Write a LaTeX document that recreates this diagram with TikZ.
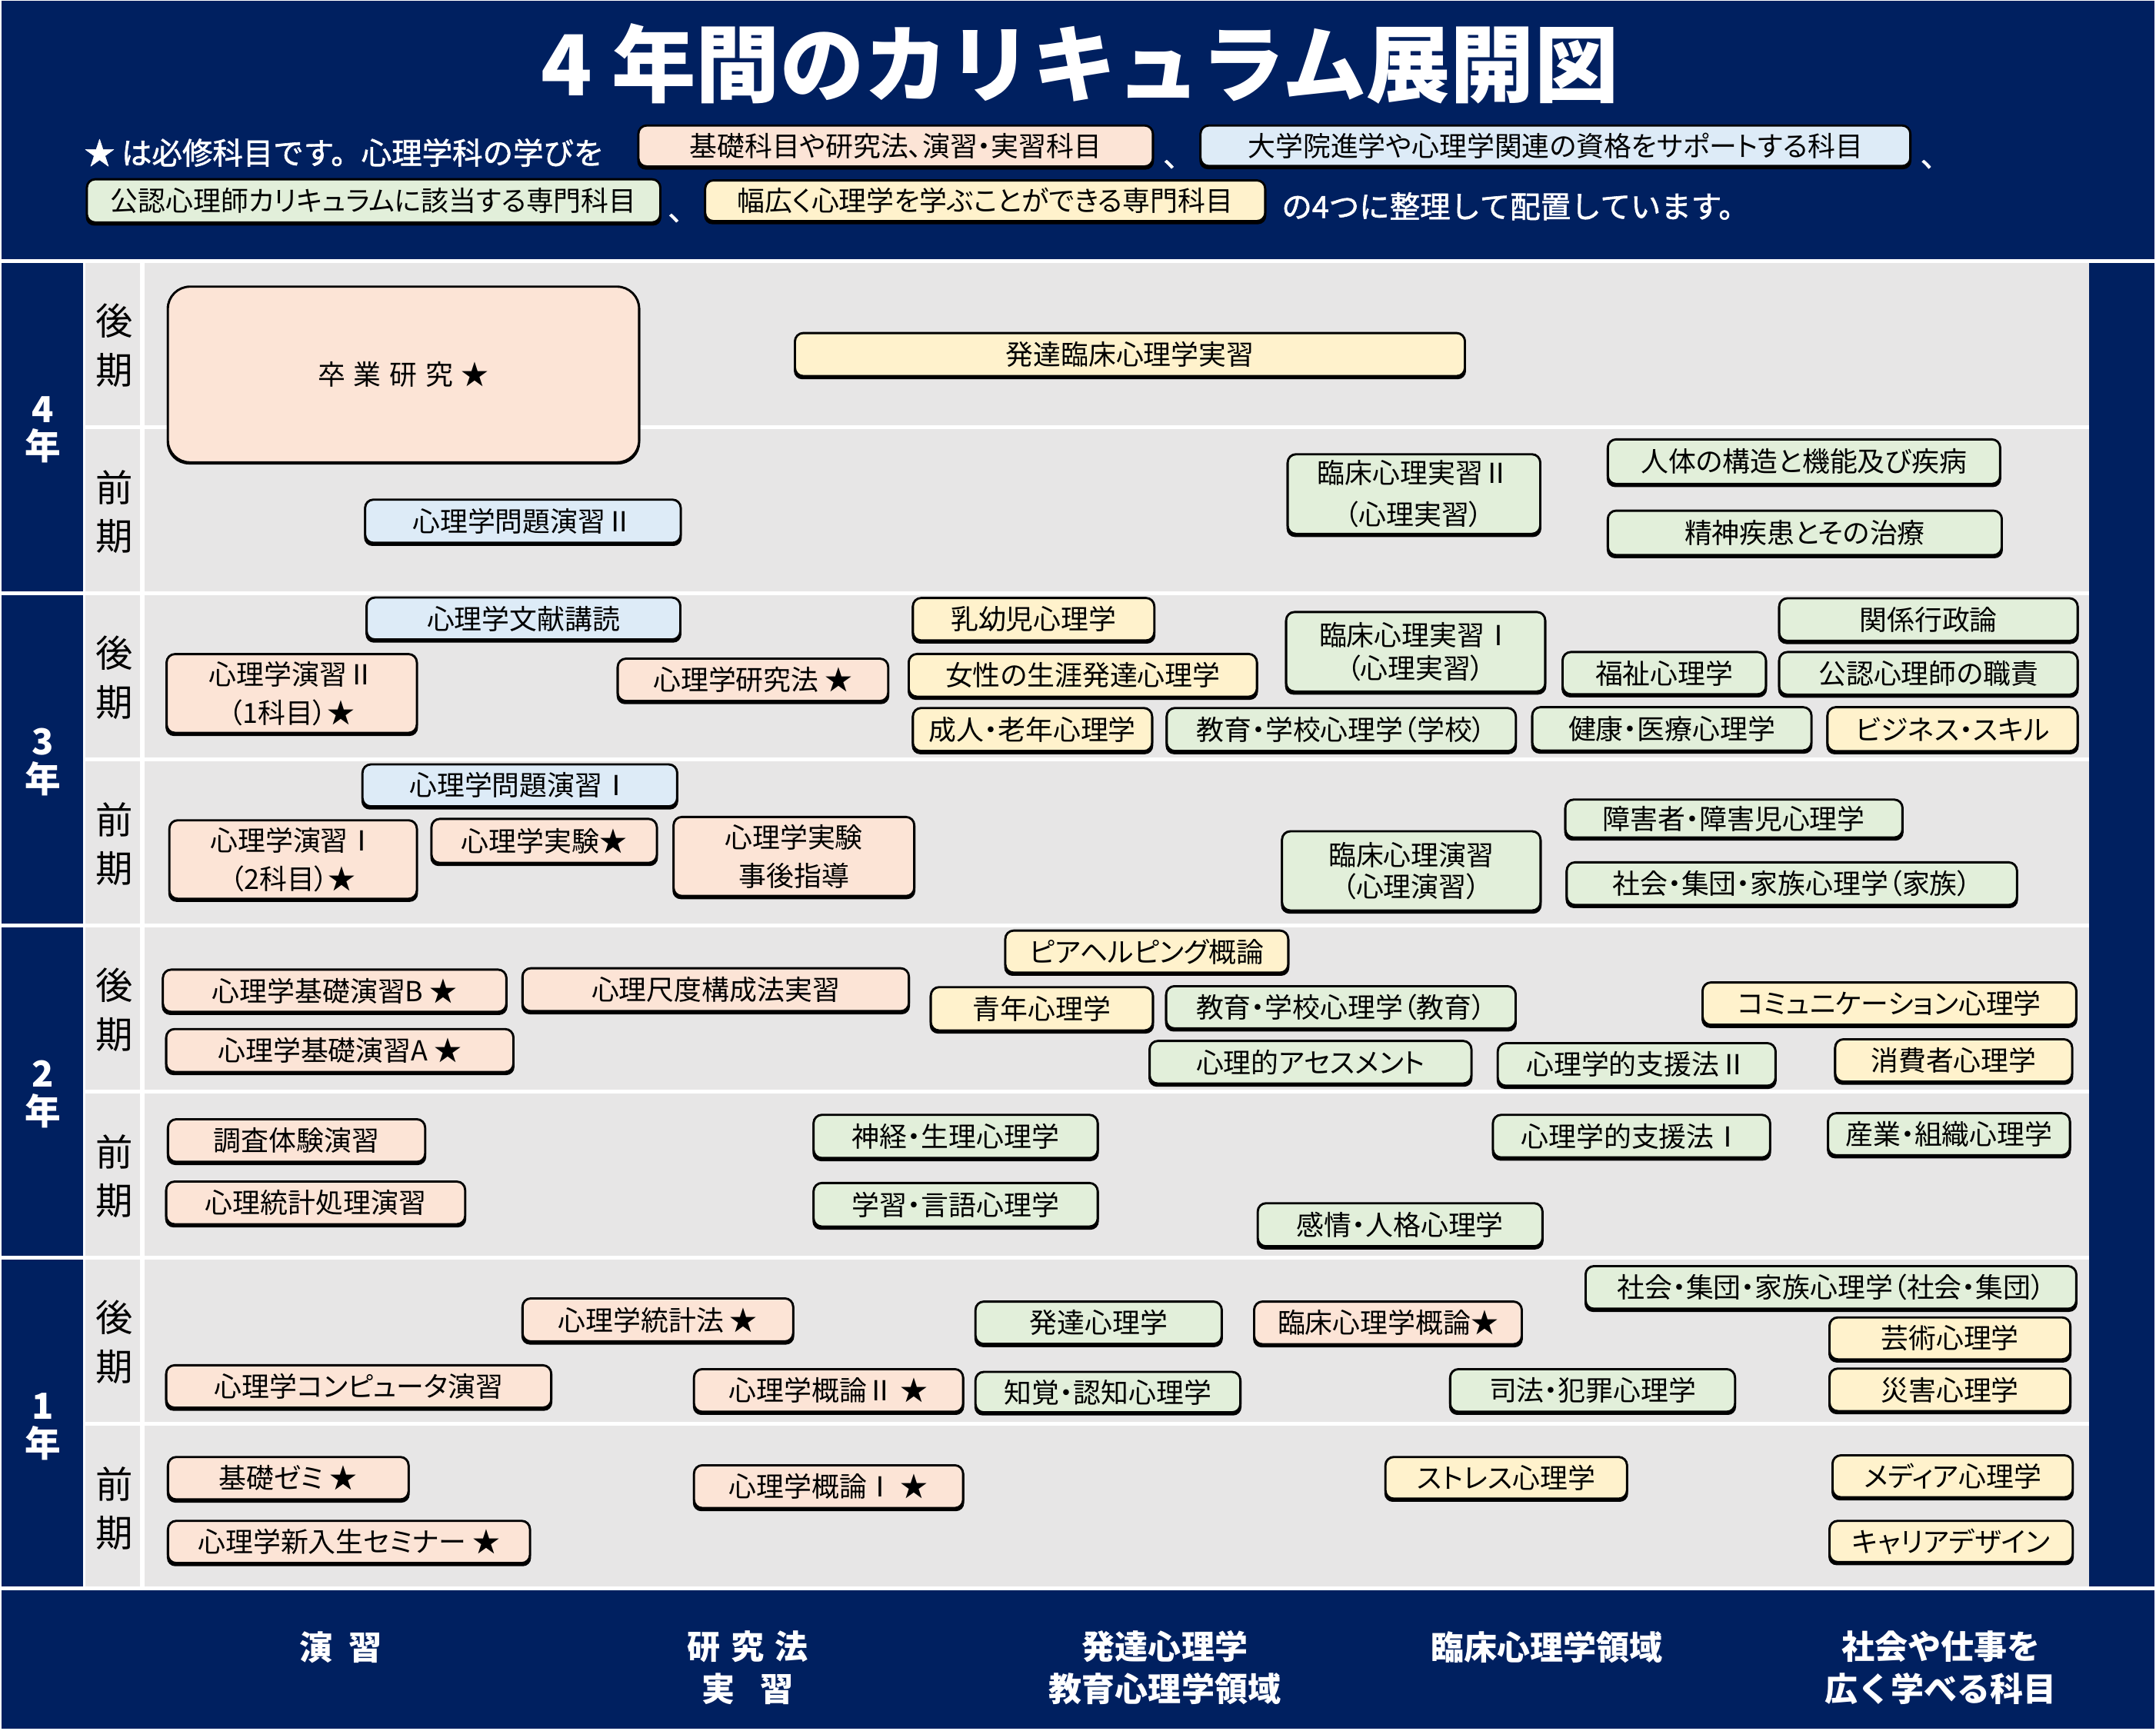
\documentclass[tikz,border=0pt]{standalone}
\usepackage{fontspec}
\setmainfont{Noto Sans CJK JP}
\newfontfamily\boxfont[RawFeature=+palt]{Noto Sans CJK JP}
\newfontfamily\hdrfont[FakeBold=1.5]{Noto Sans CJK JP}
\definecolor{navy}{RGB}{0,32,96}
\definecolor{bgg}{RGB}{231,230,230}
\definecolor{cpink}{RGB}{252,228,214}
\definecolor{cblue}{RGB}{221,235,247}
\definecolor{cgreen}{RGB}{226,239,218}
\definecolor{cyell}{RGB}{255,242,204}
\newcommand\bxf[1]{\boxfont\fontsize{20}{#1}\selectfont}
\tikzset{
  subj/.style={draw=black, line width=1.6pt, rounded corners=6pt, inner sep=0pt, align=center, font=\bxf{28}, text=black},
  hdr/.style={text=white, inner sep=0pt, font=\hdrfont\fontsize{22}{26}\selectfont},
  semlab/.style={inner sep=0pt, align=center, text=black, font=\fontsize{27}{35.3}\selectfont},
  yearlab/.style={text=white, inner sep=0pt, font=\bfseries\fontsize{26}{26}\selectfont},
  foot/.style={text=white, inner sep=0pt, align=center, font=\bfseries\fontsize{24}{30.5}\selectfont},
}
% #1 extra style, #2 name, #3 x1, #4 y1, #5 x2, #6 y2, #7 fill colour, #8 text
\newcommand\subj[8][]{%
  \pgfmathsetmacro\subjW{#5-#3-1.6}%
  \pgfmathsetmacro\subjH{#6-#4-3.1}%
  \pgfmathsetmacro\subjX{(#3+#5)/2}%
  \pgfmathsetmacro\subjY{(#4+#6-1.5)/2}%
  \fill[black, rounded corners=6pt] (#3,#4+1.5) rectangle (#5,#6);%
  \node[subj, fill=#7, minimum width=\subjW pt, minimum height=\subjH pt, #1] (#2) at (\subjX,\subjY) {#8};%
}
\begin{document}
\begin{tikzpicture}[x=1pt,y=-1pt]
\useasboundingbox (0,0) rectangle (1563,1254.7);
\fill[white] (0,0) rectangle (1563,1254.7);
% header and footer
\fill[navy] (1,0.6) rectangle (1562,187.7);
\fill[navy] (1,1153) rectangle (1562,1253.6);
% grid
\foreach \t/\b in {190.5/428.7, 431.5/669.5, 672.3/910.4, 913.2/1150.6}{
  \fill[navy] (1,\t) rectangle (60.4,\b);
  \fill[bgg] (62,\t) rectangle (1514.5,\t+117.6);
  \fill[bgg] (62,\t+120.4) rectangle (1514.5,\b);
}
\fill[white] (101.5,190.5) rectangle (105,1150.6);
\fill[navy] (1514.5,190.5) rectangle (1562,1150.6);
% year and semester labels
\foreach \t/\n in {190.5/4, 431.5/3, 672.3/2, 913.2/1}{
  \node[yearlab] (yn\n) at (31,\t+106.2) {\n};
  \node[yearlab] (yk\n) at (31.2,\t+133) {年};
  \node[semlab] (sl\n) at (82.7,\t+59.9) {後\\期};
  \node[semlab] (sf\n) at (82.7,\t+180.6) {前\\期};
}
% title and notes
\node[text=white, inner sep=0pt, font=\bfseries\fontsize{61}{61}\selectfont] (title) at (783,46) {4 年間のカリキュラム展開図};
\node[hdr, anchor=west] (note1) at (61,110.7) {★ は必修科目です。心理学科の学びを};
\node[hdr, anchor=west] (note2) at (929,149.6) {の4つに整理して配置しています。};
\node[hdr, anchor=base west] (cm1) at (843,121) {、};
\node[hdr, anchor=base west] (cm2) at (1392,121) {、};
\node[hdr, anchor=base west] (cm3) at (484,160) {、};
\subj{lgA}{462}{90.2}{836.6}{123}{cpink}{基礎科目や研究法、演習・実習科目}
\subj{lgB}{869.5}{90.2}{1385.7}{122.7}{cblue}{大学院進学や心理学関連の資格をサポートする科目}
\subj{lgC}{62.2}{129.2}{479.5}{163.6}{cgreen}{公認心理師カリキュラムに該当する専門科目}
\subj{lgD}{510.4}{130}{918}{162.6}{cyell}{幅広く心理学を学ぶことができる専門科目}
% 4th year
\fill[black, rounded corners=16pt] (120.9,207.8) rectangle (464.1,336.8);
\node[subj, rounded corners=16pt, fill=cpink, minimum width=341.6pt, minimum height=127.4pt] (sotsu) at (292.5,271.55) {卒\hspace{6pt}業\hspace{6pt}研\hspace{6pt}究\hspace{6pt}★};
\subj{hattatsuRJ}{575.5}{240.7}{1062.8}{275}{cyell}{発達臨床心理学実習}
\subj{mondai2}{263.9}{361.5}{494.3}{395.9}{cblue}{心理学問題演習Ⅱ}
\subj[font=\bxf{30}]{rinjitsu2}{932.7}{328.6}{1117.4}{389.4}{cgreen}{臨床心理実習Ⅱ\\（心理実習）}
\subj{jintai}{1164.8}{317.8}{1450.8}{353.2}{cgreen}{人体の構造と機能及び疾病}
\subj{seishin}{1164.8}{369.5}{1452}{404.8}{cgreen}{精神疾患とその治療}
% 3rd year, second semester
\subj{bunken}{265}{432.5}{494}{466}{cblue}{心理学文献講読}
\subj{enshu2}{120}{473.5}{303}{533.7}{cpink}{心理学演習Ⅱ\\（1科目）★}
\subj{kenkyuho}{447}{476.8}{644.7}{510.6}{cpink}{心理学研究法 ★}
\subj{nyuyoji}{661}{432.8}{837.6}{466.7}{cyell}{乳幼児心理学}
\subj{josei}{658}{473.4}{912}{507.5}{cyell}{女性の生涯発達心理学}
\subj{seijin}{661}{512.6}{836}{546.9}{cyell}{成人・老年心理学}
\subj{kyoikuG}{845}{512.6}{1099.7}{546.9}{cgreen}{教育・学校心理学（学校）}
\subj[font=\bxf{24}]{rinjitsu1}{931.6}{443}{1121}{503.7}{cgreen}{臨床心理実習Ⅰ\\（心理実習）}
\subj{fukushi}{1132}{472}{1281}{505.7}{cgreen}{福祉心理学}
\subj{kankei}{1289}{433}{1507}{467}{cgreen}{関係行政論}
\subj{koninshoku}{1289}{472}{1507}{506}{cgreen}{公認心理師の職責}
\subj{kenko}{1110}{512}{1314}{546.5}{cgreen}{健康・医療心理学}
\subj{business}{1324}{512}{1507}{547}{cyell}{ビジネス・スキル}
% 3rd year, first semester
\subj{mondai1}{262}{553.5}{491.7}{587}{cblue}{心理学問題演習Ⅰ}
\subj{enshu1}{122}{594}{303}{654}{cpink}{心理学演習Ⅰ\\（2科目）★}
\subj{jikken}{312}{593}{477}{628}{cpink}{心理学実験★}
\subj{jigo}{487.5}{591.6}{663.6}{652}{cpink}{心理学実験\\事後指導}
\subj[font=\bxf{23}]{rinen}{928.6}{602}{1117.6}{662.5}{cgreen}{臨床心理演習\\（心理演習）}
\subj{shogai}{1134}{579}{1380}{609.6}{cgreen}{障害者・障害児心理学}
\subj{kazoku}{1135}{624.5}{1463}{658.5}{cgreen}{社会・集団・家族心理学（家族）}
% 2nd year, second semester
\subj{peer}{728}{674}{934.7}{707.6}{cyell}{ピアヘルピング概論}
\subj{kisoB}{117.3}{702.3}{367.9}{736}{cpink}{心理学基礎演習B ★}
\subj{shakudo}{378}{701.3}{659.7}{735.5}{cpink}{心理尺度構成法実習}
\subj{kisoA}{119.7}{745.4}{373}{779.6}{cpink}{心理学基礎演習A ★}
\subj{seinen}{674}{715}{836.6}{749.5}{cyell}{青年心理学}
\subj{kyoikuK}{844.6}{714.3}{1099.6}{748}{cgreen}{教育・学校心理学（教育）}
\subj{assess}{832.6}{754}{1067.5}{788}{cgreen}{心理的アセスメント}
\subj{shien2}{1085}{755.6}{1288}{789.6}{cgreen}{心理学的支援法Ⅱ}
\subj{comm}{1233.5}{711.6}{1506}{745.4}{cyell}{コミュニケーション心理学}
\subj{shohi}{1329.6}{752.8}{1503}{786.6}{cyell}{消費者心理学}
% 2nd year, first semester
\subj{chosa}{121}{810.8}{309}{844.8}{cpink}{調査体験演習}
\subj{tokeishori}{119.7}{856}{338}{890}{cpink}{心理統計処理演習}
\subj{shinkei}{589}{807.6}{796.6}{842}{cgreen}{神経・生理心理学}
\subj{gakushu}{589}{857}{796.6}{891.7}{cgreen}{学習・言語心理学}
\subj{kanjo}{911}{871.7}{1119}{906}{cgreen}{感情・人格心理学}
\subj{shien1}{1081.5}{807.6}{1284}{841.6}{cgreen}{心理学的支援法Ⅰ}
\subj{sangyo}{1324.4}{806.4}{1501.4}{840}{cgreen}{産業・組織心理学}
% 1st year, second semester
\subj{shakai}{1148.7}{917.3}{1506}{951.3}{cgreen}{社会・集団・家族心理学（社会・集団）}
\subj{tokeiho}{378}{940.7}{575.8}{975}{cpink}{心理学統計法 ★}
\subj{hattatsu}{706.4}{943}{886.5}{976.8}{cgreen}{発達心理学}
\subj{rinsho}{908.4}{943}{1104}{977}{cpink}{臨床心理学概論★}
\subj{geijutsu}{1325.5}{954.5}{1501.7}{988}{cyell}{芸術心理学}
\subj{computer}{119.7}{989.2}{400.4}{1023}{cpink}{心理学コンピュータ演習}
\subj{gairon2}{502.3}{992}{699}{1026}{cpink}{心理学概論Ⅱ ★}
\subj{chikaku}{706.4}{994}{900}{1026.4}{cgreen}{知覚・認知心理学}
\subj{shiho}{1050.5}{992}{1258.6}{1026}{cgreen}{司法・犯罪心理学}
\subj{saigai}{1325.5}{991.6}{1501.7}{1025.5}{cyell}{災害心理学}
% 1st year, first semester
\subj{kisozemi}{121}{1055.7}{297}{1089.6}{cpink}{基礎ゼミ ★}
\subj{shinnyu}{121}{1102}{385}{1135.7}{cpink}{心理学新入生セミナー ★}
\subj{gairon1}{502.3}{1061.7}{699}{1095.8}{cpink}{心理学概論Ⅰ ★}
\subj{stress}{1003.6}{1055.7}{1180.3}{1089}{cyell}{ストレス心理学}
\subj{media}{1327.7}{1054.5}{1503.4}{1088}{cyell}{メディア心理学}
\subj{career}{1325.5}{1102}{1503.4}{1135}{cyell}{キャリアデザイン}
% footer
\node[foot] (f1) at (247,1194.3) {演\hspace{12pt}習};
\node[foot] (f2) at (542,1209.4) {研\hspace{8pt}究\hspace{8pt}法\\実\hspace{18pt}習};
\node[foot] (f3) at (844.5,1209.4) {発達心理学\\教育心理学領域};
\node[foot] (f4) at (1121.5,1194.3) {臨床心理学領域};
\node[foot] (f5) at (1407,1209.4) {社会や仕事を\\広く学べる科目};
\end{tikzpicture}
\end{document}
